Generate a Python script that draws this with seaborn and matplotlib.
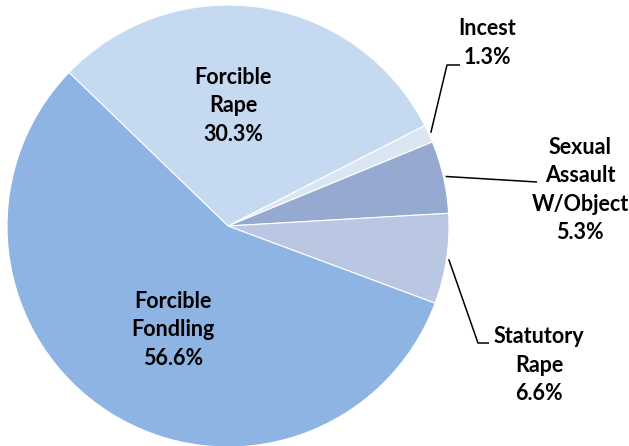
import numpy as np
import matplotlib
matplotlib.use("Agg")
import matplotlib.pyplot as plt
import seaborn as sns

# data
categories = ["Forcible\nRape", "Incest", "Sexual\nAssault\nW/Object", "Statutory\nRape", "Forcible\nFondling"]
shares = [30.3, 1.3, 5.3, 6.6, 56.6]
colors = ["#c5d9f1", "#dce6f2", "#95a9d1", "#b9c7e2", "#8eb4e3"]

sns.set_theme(style="white")
plt.rcParams["font.family"] = ["Lato", "DejaVu Sans"]

W, H = 629, 446
CX, CY, R = 228, 226, 221  # pie centre / radius in pixels

fig = plt.figure(figsize=(W / 100, H / 100), dpi=100)
ax = fig.add_axes([0, 0, 1, 1])

def px(x, y):
    return (x - CX) / R, (CY - y) / R

wedges, _ = ax.pie(shares, colors=colors, startangle=136, counterclock=False,
                   radius=1, center=(0, 0),
                   wedgeprops=dict(edgecolor="white", linewidth=0.8))

ax.set_xlim(-CX / R, (W - CX) / R)
ax.set_ylim(-(H - CY) / R, CY / R)
ax.set_aspect("equal")
ax.axis("off")

# label positions (pixels, centre of text block)
label_pos = [(233, 106), (487, 43), (580, 190), (539, 365), (173, 330)]
# elbow / end points for leader lines (pixels)
leaders = {1: [(447, 65), (460, 65)],
           2: [(537, 182)],
           3: [(478, 343), (489, 343)]}

for i, (lab, val) in enumerate(zip(categories, shares)):
    x, y = px(*label_pos[i])
    ax.text(x, y, f"{lab}\n{val:.1f}%", ha="center", va="center",
            fontsize=15.5, fontweight="bold", color="black", linespacing=1.45)
    if i in leaders:
        w = wedges[i]
        ang = np.deg2rad((w.theta1 + w.theta2) / 2)
        pts = [(np.cos(ang) * 1.01, np.sin(ang) * 1.01)] + [px(*p) for p in leaders[i]]
        xs, ys = zip(*pts)
        ax.plot(xs, ys, color="black", linewidth=1.1, solid_capstyle="butt")

fig.savefig("out.png", dpi=100, facecolor="white")
